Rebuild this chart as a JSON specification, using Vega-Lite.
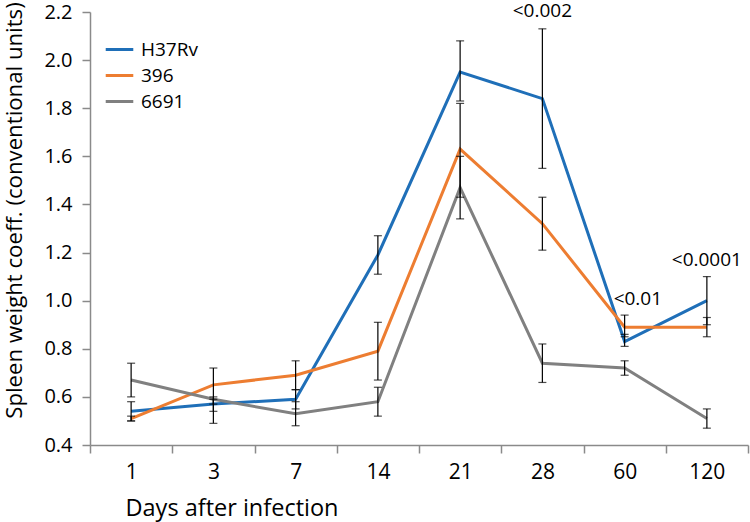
{
  "$schema": "https://vega.github.io/schema/vega-lite/v6.json",
  "width": 658,
  "height": 433,
  "autosize": {"type": "none"},
  "padding": {"left": 90, "top": 12, "right": 2, "bottom": 77},
  "background": "white",
  "config": {
    "view": {"stroke": null},
    "font": "Open Sans"
  },
  "datasets": {
    "pts": [
      {"day": "1", "strain": "H37Rv", "value": 0.54, "lo": 0.50, "hi": 0.58},
      {"day": "3", "strain": "H37Rv", "value": 0.57, "lo": 0.54, "hi": 0.60},
      {"day": "7", "strain": "H37Rv", "value": 0.59, "lo": 0.55, "hi": 0.63},
      {"day": "14", "strain": "H37Rv", "value": 1.19, "lo": 1.11, "hi": 1.27},
      {"day": "21", "strain": "H37Rv", "value": 1.95, "lo": 1.83, "hi": 2.08},
      {"day": "28", "strain": "H37Rv", "value": 1.84, "lo": 1.55, "hi": 2.13},
      {"day": "60", "strain": "H37Rv", "value": 0.83, "lo": 0.81, "hi": 0.86},
      {"day": "120", "strain": "H37Rv", "value": 1.00, "lo": 0.90, "hi": 1.10},
      {"day": "1", "strain": "396", "value": 0.51, "lo": 0.50, "hi": 0.52},
      {"day": "3", "strain": "396", "value": 0.65, "lo": 0.57, "hi": 0.72},
      {"day": "7", "strain": "396", "value": 0.69, "lo": 0.63, "hi": 0.75},
      {"day": "14", "strain": "396", "value": 0.79, "lo": 0.67, "hi": 0.91},
      {"day": "21", "strain": "396", "value": 1.63, "lo": 1.43, "hi": 1.82},
      {"day": "28", "strain": "396", "value": 1.32, "lo": 1.21, "hi": 1.43},
      {"day": "60", "strain": "396", "value": 0.89, "lo": 0.85, "hi": 0.94},
      {"day": "120", "strain": "396", "value": 0.89, "lo": 0.85, "hi": 0.93},
      {"day": "1", "strain": "6691", "value": 0.67, "lo": 0.60, "hi": 0.74},
      {"day": "3", "strain": "6691", "value": 0.59, "lo": 0.49, "hi": 0.59},
      {"day": "7", "strain": "6691", "value": 0.53, "lo": 0.48, "hi": 0.58},
      {"day": "14", "strain": "6691", "value": 0.58, "lo": 0.52, "hi": 0.64},
      {"day": "21", "strain": "6691", "value": 1.47, "lo": 1.34, "hi": 1.60},
      {"day": "28", "strain": "6691", "value": 0.74, "lo": 0.66, "hi": 0.82},
      {"day": "60", "strain": "6691", "value": 0.72, "lo": 0.69, "hi": 0.75},
      {"day": "120", "strain": "6691", "value": 0.51, "lo": 0.47, "hi": 0.55}
    ],
    "notes": [
      {"day": "28", "label": "<0.002", "y": 2.18, "shift": 0},
      {"day": "60", "label": "<0.01", "y": 0.98, "shift": 1},
      {"day": "120", "label": "<0.0001", "y": 1.145, "shift": 0}
    ]
  },
  "encoding": {
    "x": {
      "field": "day",
      "type": "ordinal",
      "sort": ["1", "3", "7", "14", "21", "28", "60", "120"],
      "scale": {"paddingInner": 0, "paddingOuter": 0},
      "axis": {
        "title": "Days after infection",
        "titleFont": "Open Sans",
        "titleFontSize": 23.5,
        "titleFontWeight": "normal",
        "titleColor": "black",
        "titleAnchor": "start",
        "titleAlign": "left",
        "titleX": 35,
        "titleY": 70,
        "titleBaseline": "alphabetic",
        "labelFont": "Open Sans",
        "labelFontSize": 21,
        "labelColor": "black",
        "labelAngle": 0,
        "labelPadding": 8,
        "tickBand": "extent",
        "tickSize": 8,
        "tickColor": "#8a8a8a",
        "domainColor": "#8a8a8a",
        "domainWidth": 1.5,
        "tickWidth": 1.5,
        "grid": false
      }
    }
  },
  "layer": [
    {
      "data": {"name": "pts"},
      "mark": {"type": "line", "strokeWidth": 3},
      "encoding": {
        "y": {
          "field": "value",
          "type": "quantitative",
          "scale": {"domain": [0.4, 2.2], "nice": false, "zero": false},
          "axis": {
            "title": "Spleen weight coeff. (conventional units)",
            "titleFont": "Open Sans",
            "titleFontSize": 22.2,
            "titleFontWeight": "normal",
            "titleColor": "black",
            "titleAngle": 270,
            "titleAlign": "center",
            "titleBaseline": "alphabetic",
            "titleX": -69,
            "titleY": 198,
            "values": [0.4, 0.6, 0.8, 1.0, 1.2, 1.4, 1.6, 1.8, 2.0, 2.2],
            "format": ".1f",
            "labelFont": "Open Sans",
            "labelFontSize": 20,
            "labelColor": "black",
            "labelPadding": 10,
            "tickSize": 8,
            "tickColor": "#8a8a8a",
            "domainColor": "#8a8a8a",
            "domainWidth": 1.5,
            "tickWidth": 1.5,
            "grid": false
          }
        },
        "color": {
          "field": "strain",
          "type": "nominal",
          "sort": ["H37Rv", "396", "6691"],
          "scale": {"domain": ["H37Rv", "396", "6691"], "range": ["#1f6fb8", "#ed7d31", "#808080"]},
          "legend": {
            "title": null,
            "orient": "none",
            "legendX": 14,
            "legendY": 22,
            "symbolType": "stroke",
            "symbolSize": 760,
            "symbolStrokeWidth": 3,
            "labelFont": "Open Sans",
            "labelFontSize": 19,
            "labelColor": "black",
            "rowPadding": 0,
            "labelOffset": 6
          }
        }
      }
    },
    {
      "data": {"name": "pts"},
      "mark": {"type": "rule", "color": "black", "strokeWidth": 1.2},
      "encoding": {
        "y": {"field": "lo", "type": "quantitative"},
        "y2": {"field": "hi"}
      }
    },
    {
      "data": {"name": "pts"},
      "mark": {"type": "tick", "color": "black", "size": 8, "thickness": 1.2, "orient": "horizontal"},
      "encoding": {
        "y": {"field": "lo", "type": "quantitative"}
      }
    },
    {
      "data": {"name": "pts"},
      "mark": {"type": "tick", "color": "black", "size": 8, "thickness": 1.2, "orient": "horizontal"},
      "encoding": {
        "y": {"field": "hi", "type": "quantitative"}
      }
    },
    {
      "data": {"name": "notes"},
      "transform": [{"filter": "datum.shift == 0"}],
      "mark": {"type": "text", "font": "Open Sans", "fontSize": 19, "color": "black", "align": "center", "baseline": "alphabetic"},
      "encoding": {
        "y": {"field": "y", "type": "quantitative"},
        "text": {"field": "label"}
      }
    },
    {
      "data": {"name": "notes"},
      "transform": [{"filter": "datum.shift == 1"}],
      "mark": {"type": "text", "font": "Open Sans", "fontSize": 19, "color": "black", "align": "left", "baseline": "alphabetic", "dx": -11},
      "encoding": {
        "y": {"field": "y", "type": "quantitative"},
        "text": {"field": "label"}
      }
    }
  ]
}
